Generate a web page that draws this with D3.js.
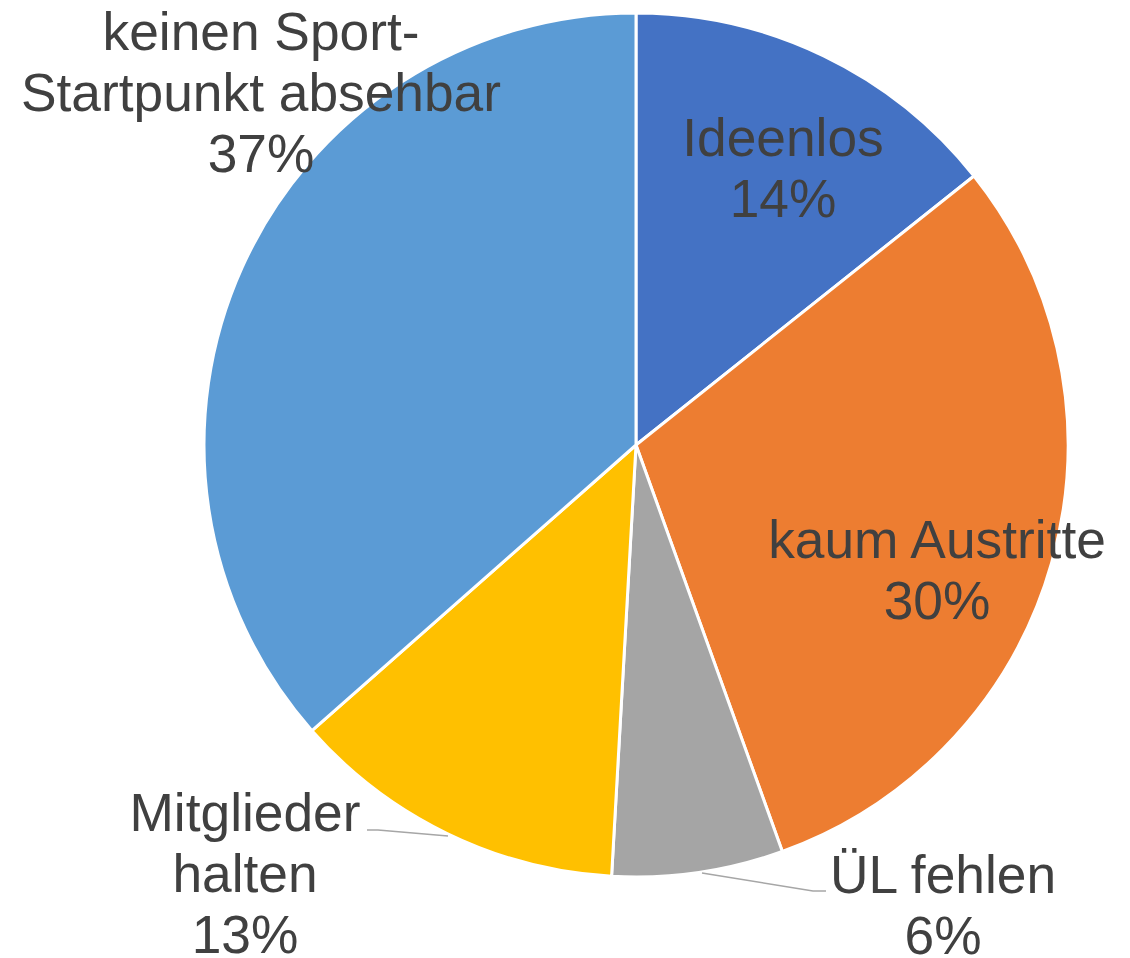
<!DOCTYPE html>
<html>
<head>
<meta charset="utf-8">
<script src="https://cdn.jsdelivr.net/npm/d3@7"></script>
<style>
html,body{margin:0;padding:0;background:#fff;}
svg{display:block;}
text{font-family:"Liberation Sans",Arial,sans-serif;}
</style>
</head>
<body>
<svg id="chart" width="1130" height="958"></svg>
<script>
const categories = ["Ideenlos", "kaum Austritte", "ÜL fehlen", "Mitglieder halten", "keinen Sport-Startpunkt absehbar"];
const values = [14.3, 30.2, 6.4, 12.6, 36.5];
const labelLines = [["Ideenlos"], ["kaum Austritte"], ["ÜL fehlen"], ["Mitglieder", "halten"], ["keinen Sport-", "Startpunkt absehbar"]];
const colors = ["#4472C4", "#ED7D31", "#A5A5A5", "#FFC000", "#5B9BD5"];

// layout (not data)
const cx = 636, cy = 445, R = 432;
const fontSize = 53.3, lineH = 61;
const labelPos = [
  {x: 783, y: 156},
  {x: 937, y: 558},
  {x: 943, y: 893},
  {x: 245, y: 831},
  {x: 261, y: 50}
];
const leaders = [
  null, null,
  [[702, 873], [813, 891], [826, 891]],
  [[448, 836], [378, 830], [367, 830]],
  null
];

const svg = d3.select("#chart");
const total = d3.sum(values);
const data = categories.map((c, i) => ({cat: c, value: values[i], i}));
const pie = d3.pie().value(d => d.value).sort(null).startAngle(0).endAngle(2 * Math.PI);
const arc = d3.arc().innerRadius(0).outerRadius(R);

const g = svg.append("g").attr("transform", `translate(${cx},${cy})`);
g.selectAll("path").data(pie(data)).join("path")
  .attr("d", arc)
  .attr("fill", d => colors[d.data.i])
  .attr("stroke", "#fff")
  .attr("stroke-width", 3)
  .attr("stroke-linejoin", "round");

const line = d3.line();
leaders.forEach(l => {
  if (!l) return;
  svg.append("path").attr("d", line(l)).attr("fill", "none")
    .attr("stroke", "#A6A6A6").attr("stroke-width", 1.5);
});

data.forEach((d, i) => {
  const lines = labelLines[i].concat([Math.round(d.value / total * 100) + "%"]);
  const t = svg.append("text")
    .attr("text-anchor", "middle")
    .attr("fill", "#404040")
    .attr("font-size", fontSize);
  lines.forEach((s, k) => {
    t.append("tspan").attr("x", labelPos[i].x).attr("y", labelPos[i].y + k * lineH).text(s);
  });
});
</script>
</body>
</html>
